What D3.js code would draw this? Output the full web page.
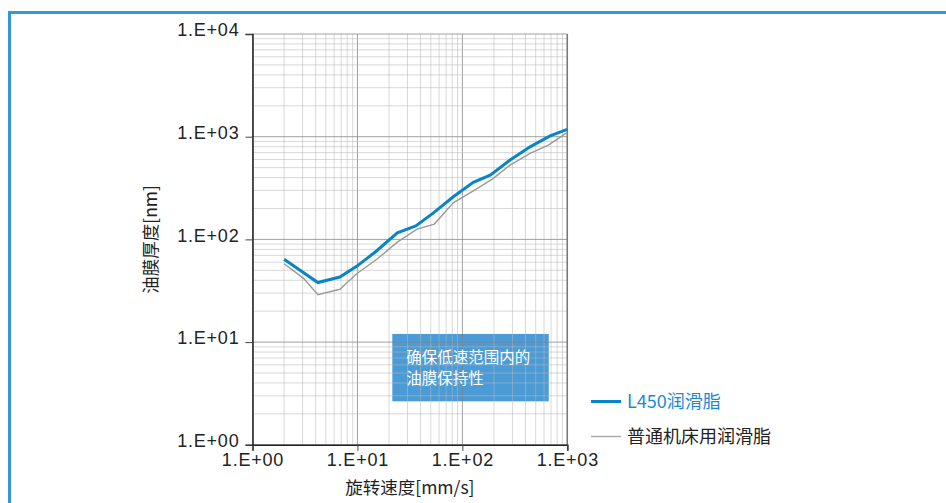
<!DOCTYPE html>
<html>
<head>
<meta charset="utf-8">
<script src="https://cdn.jsdelivr.net/npm/d3@7/dist/d3.min.js"></script>
<style>
  html, body { margin: 0; padding: 0; background: #fff; }
  svg { display: block; }
  .tick text { font-family: "Liberation Sans", Arial, sans-serif; }
</style>
</head>
<body>
<svg id="chart" width="946" height="503"></svg>
<script>
// Rotation speed [mm/s] sampled along the curves
const speedL450 = [2.0, 4.2, 6.8, 9.9, 14.7, 24, 36, 53, 82, 127, 184, 285, 442, 686, 1000];
const filmL450  = [64, 38, 43, 55, 75, 116, 135, 181, 260, 359, 422, 592, 797, 1020, 1180];

const speedStd = [2.0, 3.05, 4.2, 6.8, 9.9, 15.3, 24, 37, 54, 82, 127, 193, 285, 442, 661, 1000];
const filmStd  = [58, 42, 29, 32.7, 46.5, 64, 94, 126, 141, 227, 297, 386, 529, 687, 828, 1100];

const xMajorTicks = [1, 10, 100, 1000];
const yMajorTicks = [1, 10, 100, 1000, 10000];
const xTickLabels = ["1.E+00", "1.E+01", "1.E+02", "1.E+03"];
const yTickLabels = ["1.E+00", "1.E+01", "1.E+02", "1.E+03", "1.E+04"];

const seriesNames = ["L450润滑脂", "普通机床用润滑脂"];
const xTitle = "旋转速度[mm/s]";
const yTitle = "油膜厚度[nm]";
const noteLines = ["确保低速范围内的", "油膜保持性"];
// Highlighted region (speed range and film range) behind the note
const noteSpeedRange = [21.5, 666];
const noteFilmRange = [2.65, 12];

const svg = d3.select("#chart");
const W = 946, H = 503;
const plot = { left: 252.5, right: 567.3, top: 34, bottom: 444.8 };

const blue = "#0a84c8";
const grayLine = "#9a9a9a";
const cjk = "'Noto Sans CJK SC', 'Noto Sans', sans-serif";
const latin = "'Liberation Sans', Arial, sans-serif";

// Outer frame: top and left rules
svg.append("rect").attr("x", 8).attr("y", 11).attr("width", W - 8).attr("height", 3).attr("fill", "#3598d6");
svg.append("rect").attr("x", 8).attr("y", 11).attr("width", 3).attr("height", H - 11).attr("fill", "#3598d6");

const x = d3.scaleLog().domain([1, 1000]).range([plot.left, plot.right]);
const y = d3.scaleLog().domain([1, 10000]).range([plot.bottom, plot.top]);

const isMajor = v => Math.abs(Math.log10(v) - Math.round(Math.log10(v))) < 1e-9;

// Note box sits under the grid
svg.append("rect")
  .attr("x", x(noteSpeedRange[0]))
  .attr("y", y(noteFilmRange[1]))
  .attr("width", x(noteSpeedRange[1]) - x(noteSpeedRange[0]))
  .attr("height", y(noteFilmRange[0]) - y(noteFilmRange[1]))
  .attr("fill", "#4a9bd6");

// Grid
const grid = svg.append("g");
const xt = x.ticks();
const yt = y.ticks();
grid.selectAll("line.vx").data(xt).join("line")
  .attr("x1", d => x(d)).attr("x2", d => x(d))
  .attr("y1", plot.top).attr("y2", plot.bottom)
  .attr("stroke", d => isMajor(d) ? "#808080" : "#b8b8b8")
  .attr("stroke-opacity", d => isMajor(d) ? 0.75 : 0.55)
  .attr("stroke-width", 1);
grid.selectAll("line.hy").data(yt).join("line")
  .attr("x1", plot.left).attr("x2", plot.right)
  .attr("y1", d => y(d)).attr("y2", d => y(d))
  .attr("stroke", d => isMajor(d) ? "#808080" : "#b8b8b8")
  .attr("stroke-opacity", d => isMajor(d) ? 0.75 : 0.55)
  .attr("stroke-width", 1);

// Right edge of the plot
svg.append("line")
  .attr("x1", plot.right).attr("x2", plot.right)
  .attr("y1", plot.top).attr("y2", plot.bottom)
  .attr("stroke", "#777").attr("stroke-width", 1.5);

// Note text
const note = svg.append("text")
  .attr("font-family", cjk).attr("font-size", 15.5).attr("fill", "#fff");
noteLines.forEach((t, i) => {
  note.append("tspan")
    .attr("x", x(noteSpeedRange[0]) + 14)
    .attr("y", y(noteFilmRange[1]) + 29 + i * 21.5)
    .text(t);
});

// Axes
const yAxis = d3.axisLeft(y).tickValues(yMajorTicks)
  .tickFormat((d, i) => yTickLabels[i]).tickSize(7).tickPadding(6);
const gy = svg.append("g").attr("transform", `translate(${plot.left},0)`).call(yAxis);
gy.select(".domain").attr("stroke", "#222").attr("stroke-width", 1.5);
gy.selectAll(".tick line").attr("stroke", "#444");
gy.selectAll(".tick text").attr("font-size", 18).attr("fill", "#222")
  .attr("font-family", latin).attr("letter-spacing", 0.8).attr("dy", "0.1em");

const xAxis = d3.axisBottom(x).tickValues(xMajorTicks)
  .tickFormat((d, i) => xTickLabels[i]).tickSize(6).tickPadding(2);
const gx = svg.append("g").attr("transform", `translate(0,${plot.bottom})`).call(xAxis);
gx.select(".domain").attr("stroke", "#222").attr("stroke-width", 1.5);
gx.selectAll(".tick line").attr("stroke", "#444");
gx.selectAll(".tick text").attr("font-size", 18).attr("fill", "#222")
  .attr("font-family", latin).attr("letter-spacing", 0.8);

// Axis titles
svg.append("text")
  .attr("x", (plot.left + plot.right) / 2).attr("y", 494)
  .attr("text-anchor", "middle").attr("font-family", cjk).attr("font-size", 17.5).attr("fill", "#222")
  .text(xTitle);
svg.append("text")
  .attr("transform", `translate(157,${(plot.top + plot.bottom) / 2}) rotate(-90)`)
  .attr("text-anchor", "middle").attr("font-family", cjk).attr("font-size", 17.5).attr("fill", "#222")
  .text(yTitle);

// Curves
const line = d3.line().x(d => x(d[0])).y(d => y(d[1]));
svg.append("path")
  .datum(d3.zip(speedStd, filmStd))
  .attr("d", line).attr("fill", "none")
  .attr("stroke", grayLine).attr("stroke-width", 1.4).attr("stroke-linejoin", "miter");
svg.append("path")
  .datum(d3.zip(speedL450, filmL450))
  .attr("d", line).attr("fill", "none")
  .attr("stroke", blue).attr("stroke-width", 3).attr("stroke-linejoin", "miter");

// Legend
const legend = [
  { name: seriesNames[0], color: blue, width: 3, text: "#1a8ad4", y: 401.5 },
  { name: seriesNames[1], color: "#a8a8a8", width: 1.4, text: "#222", y: 436.5 }
];
const lg = svg.append("g");
legend.forEach(l => {
  lg.append("line").attr("x1", 591).attr("x2", 621).attr("y1", l.y).attr("y2", l.y)
    .attr("stroke", l.color).attr("stroke-width", l.width);
  lg.append("text").attr("x", 627).attr("y", l.y).attr("dy", "0.36em")
    .attr("font-family", cjk).attr("font-size", 18).attr("fill", l.text)
    .text(l.name);
});
</script>
</body>
</html>
